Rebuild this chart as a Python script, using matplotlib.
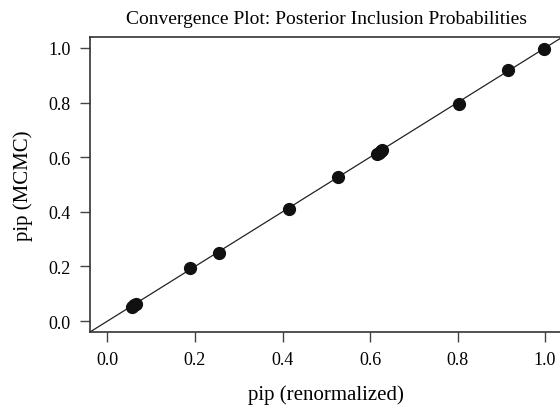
import numpy as np
import matplotlib.pyplot as plt

plt.rcParams['font.family'] = ['Liberation Serif', 'DejaVu Serif']

# posterior inclusion probabilities
pip_renorm = [0.055, 0.060, 0.065, 0.189, 0.256, 0.414, 0.527,
              0.615, 0.620, 0.624, 0.628, 0.804, 0.916, 0.998]
pip_mcmc = [0.052, 0.058, 0.064, 0.193, 0.251, 0.409, 0.527,
            0.612, 0.617, 0.621, 0.625, 0.796, 0.918, 0.997]
ticks = [0.0, 0.2, 0.4, 0.6, 0.8, 1.0]

fig = plt.figure(figsize=(5.6, 4.1), dpi=100)
ax = fig.add_axes([0.1607, 0.1878, 0.8438, 0.7195])

ax.plot(pip_renorm, pip_mcmc, 'o', color='#111111', markersize=8.5, zorder=3)
ax.axline((0, 0), slope=1, color='#222222', lw=0.9, zorder=2)

ax.set_xlim(-0.04, 1.04)
ax.set_ylim(-0.04, 1.04)
ax.set_xticks(ticks)
ax.set_yticks(ticks)
ax.set_xticklabels(['%.1f' % t for t in ticks])
ax.set_yticklabels(['%.1f' % t for t in ticks])
ax.tick_params(direction='out', length=7.2, width=1, color='#444444',
               labelsize=13, pad=6.5)

for s in ax.spines.values():
    s.set_color('#333333')
    s.set_linewidth(1.2)

ax.set_xlabel('pip (renormalized)', fontsize=15, labelpad=12)
ax.set_ylabel('pip (MCMC)', fontsize=15, labelpad=11)
ax.set_title('Convergence Plot: Posterior Inclusion Probabilities', fontsize=14, pad=10)

plt.savefig('out.png', dpi=100)
